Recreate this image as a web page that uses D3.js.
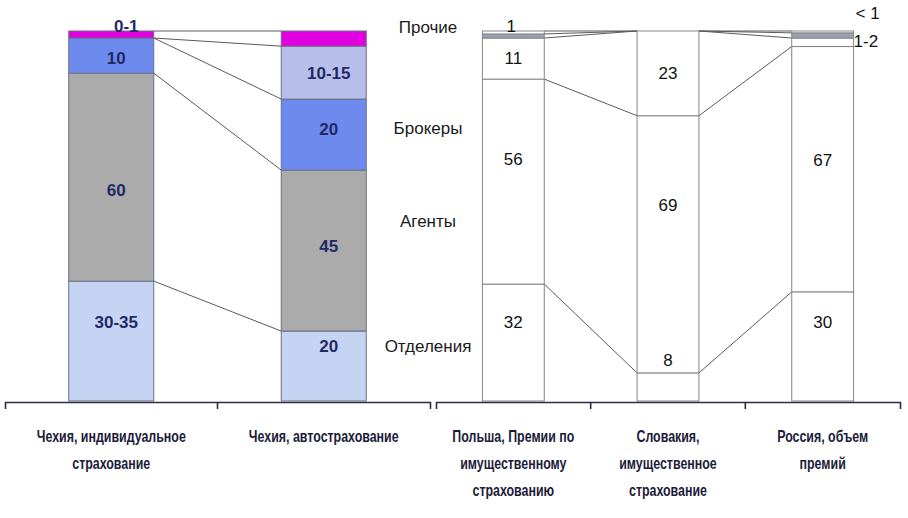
<!DOCTYPE html>
<html>
<head>
<meta charset="utf-8">
<script src="https://cdn.jsdelivr.net/npm/d3@7"></script>
<style>
  body { margin: 0; background: #fff; }
  svg { display: block; }
</style>
</head>
<body>
<svg id="chart" width="908" height="518"></svg>
<script>
// series, stacked bottom to top
const seriesNames = ["Отделения", "Агенты", "Брокеры", "Дилеры", "Прочие"];
// names written between the two panels (empty = not shown)
const seriesCaptions = ["Отделения", "Агенты", "Брокеры", "", "Прочие"];

const leftCategories = ["Чехия, индивидуальное\nстрахование", "Чехия, автострахование"];
const rightCategories = ["Польша, Премии по\nимущественному\nстрахованию", "Словакия,\nимущественное\nстрахование", "Россия, объем\nпремий"];

// shares, %
const leftBranches = [32.4, 18.9];
const leftAgents = [56.2, 43.5];
const leftBrokers = [9.5, 19.2];
const leftDealers = [0, 14.3];
const leftOther = [1.9, 4.1];

const rightBranches = [31.6, 7.6, 29.5];
const rightAgents = [55.4, 69.5, 66.3];
const rightBrokers = [11.1, 22.9, 2.3];
const rightDealers = [1.1, 0, 1.4];
const rightOther = [0.8, 0, 0.5];

// printed labels, per bar, per series
const leftLabels = [["30-35", "60", "10", "", "0-1"], ["20", "45", "20", "10-15", ""]];
const rightLabels = [["32", "56", "11", "", "1"], ["8", "69", "23", "", ""], ["30", "67", "1-2", "", "< 1"]];

// ---- layout ----
const svg = d3.select("#chart");
const y = d3.scaleLinear().domain([0, 100]).range([401, 31]);
const axisY = 402;

// where the captions between panels sit, in y units
const captionLevel = [14.9, 48.6, 73.8, null, 101];

// vertical nudges (px) of labels from segment middles
const labelNudge = {
  "L0-0": -19, "L0-1": 13, "L0-2": 2, "L1-0": -20, "L1-1": -5, "L1-2": -6, "L1-3": 0,
  "R0-0": -20, "R0-1": -23, "R0-2": -1, "R1-0": -27, "R1-1": -39, "R1-2": 0, "R2-0": -24, "R2-1": -9
};
// labels of thin segments, placed outside the bar
const labelOutside = {
  "L0-4": {anchor: "middle", at: "center", dx: 15, dy: 1, from: "top"},
  "R0-4": {anchor: "middle", at: "center", dx: -2, dy: 1, from: "top"},
  "R2-4": {anchor: "start", at: "right", dx: 2, dy: -12, from: "top"},
  "R2-2": {anchor: "start", at: "right", dx: 0, dy: 5, from: "mid"}
};

function drawPanel(opt) {
  let rows = opt.categories.map((c, i) => {
    let r = {cat: c};
    seriesNames.forEach((s, k) => r[s] = opt.values[k][i]);
    return r;
  });
  let stacked = d3.stack().keys(seriesNames)(rows);

  let x = d3.scaleBand()
    .domain(opt.categories)
    .range(opt.range)
    .paddingInner(0.6)
    .paddingOuter(0.3);
  let bw = x.bandwidth();

  let g = svg.append("g");

  // connecting lines between series tops
  let lines = [];
  stacked.forEach(layer => {
    for (let i = 0; i < layer.length - 1; i++) {
      lines.push({
        x1: x(layer[i].data.cat) + bw, y1: y(layer[i][1]),
        x2: x(layer[i + 1].data.cat), y2: y(layer[i + 1][1])
      });
    }
  });
  g.selectAll("line.series")
    .data(lines)
    .enter()
    .append("line")
    .attr("x1", d => d.x1).attr("y1", d => d.y1)
    .attr("x2", d => d.x2).attr("y2", d => d.y2)
    .attr("stroke", "#5a5a5a")
    .attr("stroke-width", 1);

  g.selectAll("g.layer")
    .data(stacked)
    .enter()
    .append("g")
    .attr("fill", (d, k) => opt.fills[k])
    .selectAll("rect")
    .data(d => d)
    .enter()
    .append("rect")
    .attr("x", d => x(d.data.cat))
    .attr("y", d => y(d[1]))
    .attr("width", bw)
    .attr("height", d => y(d[0]) - y(d[1]))
    .attr("stroke", opt.stroke)
    .attr("stroke-width", 1);

  // value labels
  let labs = [];
  stacked.forEach((layer, k) => {
    layer.forEach((d, i) => {
      let t = opt.labels[i][k];
      if (!t) return;
      let key = opt.id + i + "-" + k;
      let cx = x(d.data.cat) + bw / 2;
      let mid = (y(d[0]) + y(d[1])) / 2;
      let out = labelOutside[key];
      if (out) {
        let base = out.from === "top" ? y(d[1]) : mid;
        let ax = out.at === "right" ? x(d.data.cat) + bw : cx;
        labs.push({t: t, x: ax + out.dx, y: base + out.dy, anchor: out.anchor, shift: "0"});
      } else {
        labs.push({t: t, x: cx + opt.labelDx, y: mid + (labelNudge[key] || 0), anchor: "middle", shift: "0.35em"});
      }
    });
  });
  g.selectAll("text.val")
    .data(labs)
    .enter()
    .append("text")
    .attr("x", d => d.x)
    .attr("y", d => d.y)
    .attr("dy", d => d.shift)
    .attr("text-anchor", d => d.anchor)
    .attr("font-family", "'Liberation Sans', Arial, sans-serif")
    .attr("font-size", 17)
    .attr("font-weight", opt.labelWeight)
    .attr("fill", opt.labelColor)
    .text(d => d.t);

  // axis with ticks between categories
  let ax = g.append("g")
    .attr("transform", `translate(0,${axisY})`)
    .call(d3.axisBottom(x).tickSize(0).tickSizeOuter(7).tickFormat(""));
  ax.select(".domain").attr("stroke", "#2c2c44").attr("stroke-width", 1.6);
  ax.selectAll(".tick").remove();
  g.selectAll("line.sep")
    .data(opt.categories.slice(1))
    .enter()
    .append("line")
    .attr("x1", d => x(d) - x.step() * 0.3)
    .attr("x2", d => x(d) - x.step() * 0.3)
    .attr("y1", axisY)
    .attr("y2", axisY + 7)
    .attr("stroke", "#2c2c44")
    .attr("stroke-width", 1.6);

  // category names under the axis (condensed look)
  let names = g.selectAll("text.cat")
    .data(opt.categories)
    .enter()
    .append("text")
    .attr("text-anchor", "middle")
    .attr("font-family", "'Liberation Sans', Arial, sans-serif")
    .attr("font-size", 17)
    .attr("font-weight", "bold")
    .attr("fill", "#1c1c3a")
    .attr("transform", d => `translate(${x(d) + bw / 2},442) scale(0.73,1)`);
  names.selectAll("tspan")
    .data(d => d.split("\n"))
    .enter()
    .append("tspan")
    .attr("x", 0)
    .attr("y", (d, i) => i * 27)
    .text(d => d);
}

drawPanel({
  id: "L",
  categories: leftCategories,
  values: [leftBranches, leftAgents, leftBrokers, leftDealers, leftOther],
  labels: leftLabels,
  range: [5, 430],
  fills: ["#c6d4f4", "#ababab", "#6d8aef", "#b7bee9", "#e000e0"],
  stroke: "#6b7184",
  labelDx: 5,
  labelWeight: "bold",
  labelColor: "#222a66"
});

drawPanel({
  id: "R",
  categories: rightCategories,
  values: [rightBranches, rightAgents, rightBrokers, rightDealers, rightOther],
  labels: rightLabels,
  range: [436, 900],
  fills: ["#ffffff", "#ffffff", "#ffffff", "#9aa1b6", "#ffffff"],
  stroke: "#858585",
  labelDx: 0,
  labelWeight: "normal",
  labelColor: "#111111"
});

// series names between the panels
svg.append("g")
  .selectAll("text")
  .data(seriesCaptions.map((c, k) => ({c: c, lvl: captionLevel[k]})).filter(d => d.c))
  .enter()
  .append("text")
  .attr("x", 428)
  .attr("y", d => y(d.lvl))
  .attr("dy", "0.35em")
  .attr("text-anchor", "middle")
  .attr("font-family", "'Liberation Sans', Arial, sans-serif")
  .attr("font-size", 17)
  .attr("fill", "#1a1a1a")
  .text(d => d.c);
</script>
</body>
</html>
